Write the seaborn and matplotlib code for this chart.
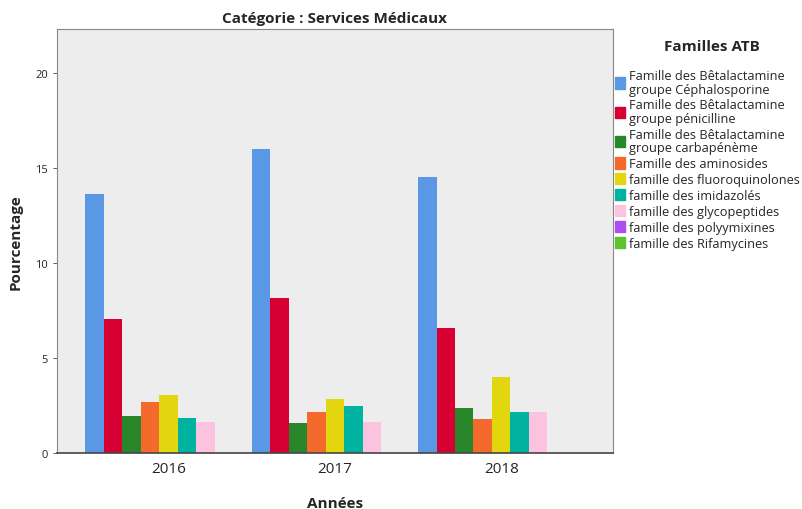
import pandas as pd
import numpy as np
import seaborn as sns
import matplotlib.pyplot as plt

# data
years = ["2016", "2017", "2018"]
families = [
    "Famille des Bêtalactamine\ngroupe Céphalosporine",
    "Famille des Bêtalactamine\ngroupe pénicilline",
    "Famille des Bêtalactamine\ngroupe carbapénème",
    "Famille des aminosides",
    "famille des fluoroquinolones",
    "famille des imidazolés",
    "famille des glycopeptides",
    "famille des polyymixines",
    "famille des Rifamycines",
]
cephalosporine = [13.6, 16.0, 14.5]
penicilline = [7.05, 8.15, 6.55]
carbapeneme = [1.95, 1.58, 2.38]
aminosides = [2.7, 2.17, 1.77]
fluoroquinolones = [3.03, 2.85, 3.98]
imidazoles = [1.86, 2.49, 2.14]
glycopeptides = [1.65, 1.63, 2.14]
polymyxines = [0, 0, 0]
rifamycines = [0, 0, 0]
colors = ["#5A97E5", "#D60032", "#2A862A", "#F36A2C", "#E2D60F",
          "#00B2A0", "#FCC3E0", "#AE4EF0", "#5CC230"]

values = [cephalosporine, penicilline, carbapeneme, aminosides, fluoroquinolones,
          imidazoles, glycopeptides, polymyxines, rifamycines]
df = pd.DataFrame([
    {"Années": y, "Famille": fam, "Pourcentage": v}
    for fam, vals in zip(families, values)
    for y, v in zip(years, vals)
])

sns.set_style("white")
plt.rcParams['font.family'] = ['Open Sans', 'DejaVu Sans']

fig = plt.figure(figsize=(8.03, 5.10), dpi=100)
ax = fig.add_axes([0.071, 0.11, 0.692, 0.831])
sns.barplot(data=df, x="Années", y="Pourcentage", hue="Famille",
            hue_order=families, palette=dict(zip(families, colors)),
            width=1.0, gap=0, ax=ax, legend=False, saturation=1, linewidth=0)

ax.set_facecolor("#EDEDED")
ax.set_xlim(-0.67, 2.67)
ax.set_ylim(0, 22.3)
ax.set_yticks([0, 5, 10, 15, 20])
ax.tick_params(axis="y", labelsize=8, length=3, width=0.6, left=True, color="#444444")
ax.tick_params(axis="x", labelsize=11, length=0, pad=6)
for s in ["left", "top", "right"]:
    ax.spines[s].set_color("#888888")
    ax.spines[s].set_linewidth(0.8)
ax.spines["bottom"].set_color("#444444")
ax.spines["bottom"].set_linewidth(1.2)

ax.set_title("Catégorie : Services Médicaux", fontsize=11, fontweight="bold", pad=5)
ax.set_xlabel("Années", fontsize=11, fontweight="bold", labelpad=14)
ax.set_ylabel("Pourcentage", fontsize=11, fontweight="bold", labelpad=9)

fig.text(0.887, 0.908, "Familles ATB", fontsize=11, fontweight="bold",
         ha="center", va="center")
handles = [plt.Rectangle((0, 0), 1, 1, color=c) for c in colors]
leg = fig.legend(handles, families, loc="upper left",
                 bbox_to_anchor=(0.755, 0.88), frameon=False, fontsize=9.2,
                 handlelength=0.75, handleheight=1.0, handletextpad=0.3,
                 labelspacing=0.22, borderpad=0.2)
for t in leg.get_texts():
    t.set_linespacing(1.05)

fig.savefig("out.png", dpi=100)
